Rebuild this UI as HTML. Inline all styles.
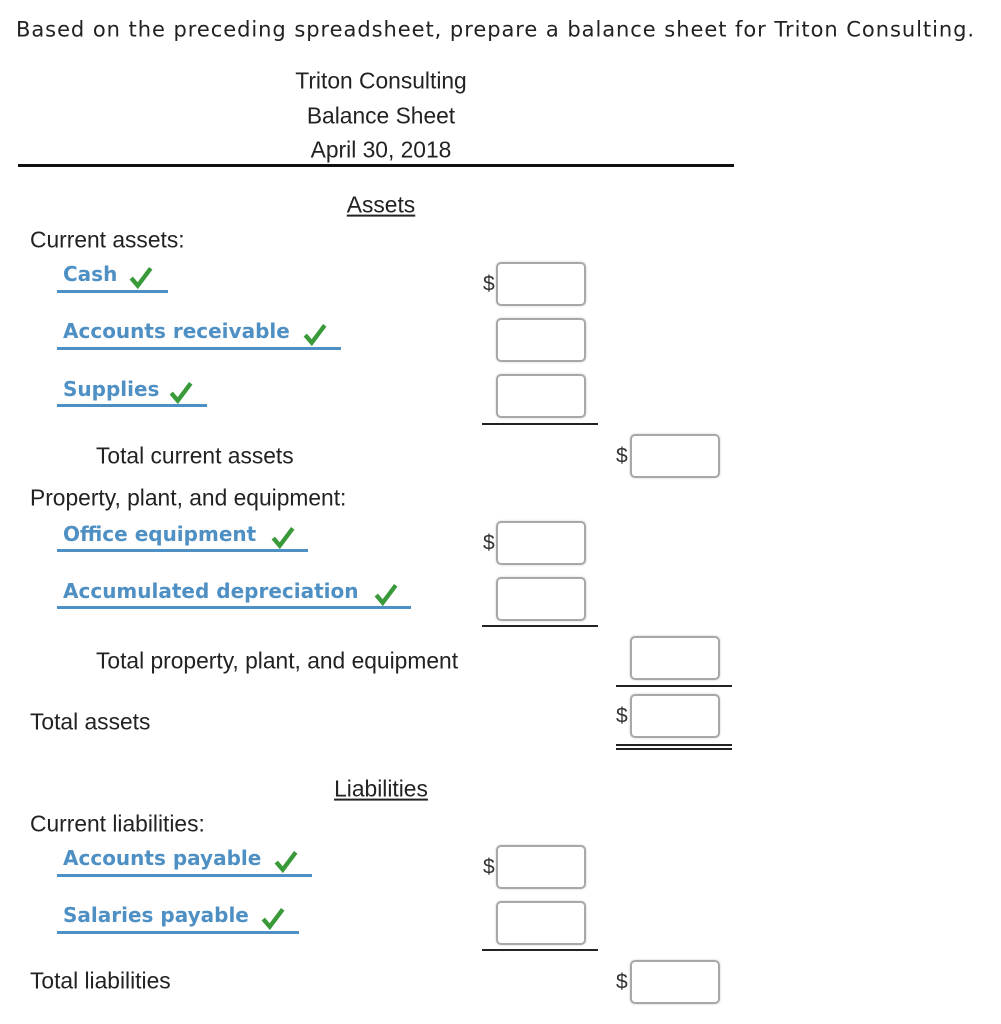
<!DOCTYPE html>
<html><head><meta charset="utf-8"><style>
body{margin:0;width:1001px;height:1024px;background:#fff;position:relative;overflow:hidden;font-family:"Liberation Sans",sans-serif;color:#222}
.a{position:absolute;white-space:nowrap;line-height:1}
.t{font-size:22.8px;transform:translateY(-50%)}
.c{transform:translate(-50%,-50%)}
.b{font-family:"DejaVu Sans",sans-serif;font-weight:bold;font-size:20px;color:#4f90c4;transform:translateY(-50%)}
.u{position:absolute;height:3px;background:#4f90c4}
.box{position:absolute;width:86px;height:40px;border:2px solid #a8a8a8;border-radius:5px;box-shadow:0 0 2px #ccc}
.ln{position:absolute;height:2px;background:#222;width:116px}
.d{position:absolute;font-size:21px;line-height:1;transform:translateY(-50%);color:#333}
svg.k{position:absolute}
</style></head><body>
<div class="a" style="left:16px;top:30px;transform:translateY(-50%);font-family:'DejaVu Sans',sans-serif;font-size:21px;letter-spacing:0.95px">Based on the preceding spreadsheet, prepare a balance sheet for Triton Consulting.</div>
<div class="a t c" style="left:381px;top:81px">Triton Consulting</div>
<div class="a t c" style="left:381px;top:116px">Balance Sheet</div>
<div class="a t c" style="left:381px;top:150px">April 30, 2018</div>
<div style="position:absolute;left:18px;top:164px;width:716px;height:3px;background:#111"></div>
<div class="a t c" style="left:381px;top:205px;text-decoration:underline">Assets</div>
<div class="a t" style="left:30px;top:240px">Current assets:</div>

<div class="a b" style="left:63px;top:274px">Cash</div><div class="u" style="left:57px;top:290px;width:111px"></div>
<div class="a b" style="left:63px;top:331px">Accounts receivable</div><div class="u" style="left:57px;top:347px;width:284px"></div>
<div class="a b" style="left:63px;top:389px">Supplies</div><div class="u" style="left:57px;top:404px;width:150px"></div>
<div class="a t" style="left:96px;top:456px">Total current assets</div>
<div class="a t" style="left:30px;top:498px">Property, plant, and equipment:</div>
<div class="a b" style="left:63px;top:534px">Office equipment</div><div class="u" style="left:57px;top:549px;width:251px"></div>
<div class="a b" style="left:63px;top:591px">Accumulated depreciation</div><div class="u" style="left:57px;top:606px;width:354px"></div>
<div class="a t" style="left:96px;top:661px">Total property, plant, and equipment</div>
<div class="a t" style="left:30px;top:722px">Total assets</div>
<div class="a t c" style="left:381px;top:789px;text-decoration:underline">Liabilities</div>
<div class="a t" style="left:30px;top:824px">Current liabilities:</div>
<div class="a b" style="left:63px;top:858px">Accounts payable</div><div class="u" style="left:57px;top:874px;width:255px"></div>
<div class="a b" style="left:63px;top:915px">Salaries payable</div><div class="u" style="left:57px;top:931px;width:242px"></div>
<div class="a t" style="left:30px;top:981px">Total liabilities</div>

<svg class="k" style="left:128px;top:264px" width="26" height="26" viewBox="0 0 24 24"><path d="M3 13 L9 20 L21 4" fill="none" stroke="#3a9a3a" stroke-width="4"/></svg>
<svg class="k" style="left:302px;top:321px" width="26" height="26" viewBox="0 0 24 24"><path d="M3 13 L9 20 L21 4" fill="none" stroke="#3a9a3a" stroke-width="4"/></svg>
<svg class="k" style="left:168px;top:379px" width="26" height="26" viewBox="0 0 24 24"><path d="M3 13 L9 20 L21 4" fill="none" stroke="#3a9a3a" stroke-width="4"/></svg>
<svg class="k" style="left:270px;top:524px" width="26" height="26" viewBox="0 0 24 24"><path d="M3 13 L9 20 L21 4" fill="none" stroke="#3a9a3a" stroke-width="4"/></svg>
<svg class="k" style="left:373px;top:581px" width="26" height="26" viewBox="0 0 24 24"><path d="M3 13 L9 20 L21 4" fill="none" stroke="#3a9a3a" stroke-width="4"/></svg>
<svg class="k" style="left:273px;top:848px" width="26" height="26" viewBox="0 0 24 24"><path d="M3 13 L9 20 L21 4" fill="none" stroke="#3a9a3a" stroke-width="4"/></svg>
<svg class="k" style="left:260px;top:905px" width="26" height="26" viewBox="0 0 24 24"><path d="M3 13 L9 20 L21 4" fill="none" stroke="#3a9a3a" stroke-width="4"/></svg>

<div class="d" style="left:483px;top:284px">$</div><div class="box" style="left:496px;top:262px"></div>
<div class="box" style="left:496px;top:318px"></div>
<div class="box" style="left:496px;top:374px"></div>
<div class="ln" style="left:482px;top:423px"></div>
<div class="d" style="left:616px;top:456px">$</div><div class="box" style="left:630px;top:434px"></div>
<div class="d" style="left:483px;top:543px">$</div><div class="box" style="left:496px;top:521px"></div>
<div class="box" style="left:496px;top:577px"></div>
<div class="ln" style="left:482px;top:625px"></div>
<div class="box" style="left:630px;top:636px"></div>
<div class="ln" style="left:616px;top:685px"></div>
<div class="d" style="left:616px;top:716px">$</div><div class="box" style="left:630px;top:694px"></div>
<div class="ln" style="left:616px;top:744px"></div><div class="ln" style="left:616px;top:748px"></div>
<div class="d" style="left:483px;top:867px">$</div><div class="box" style="left:496px;top:845px"></div>
<div class="box" style="left:496px;top:901px"></div>
<div class="ln" style="left:482px;top:949px"></div>
<div class="d" style="left:616px;top:982px">$</div><div class="box" style="left:630px;top:960px"></div>
</body></html>
